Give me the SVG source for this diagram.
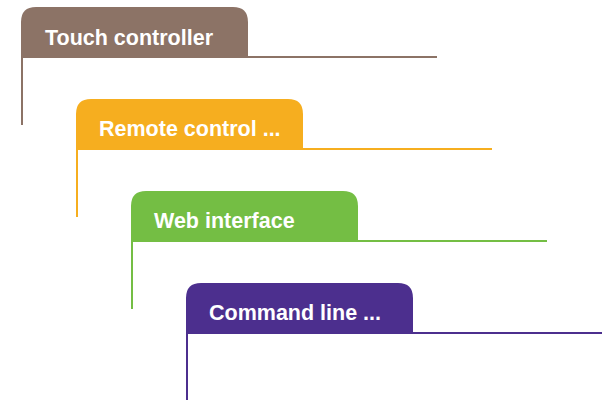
<svg xmlns="http://www.w3.org/2000/svg" width="606" height="400" viewBox="0 0 606 400">
<style>
.lbl{font-family:"Liberation Sans",Arial,sans-serif;font-weight:bold;font-size:21.5px;fill:#fff}
.ln{fill:none;stroke-width:2}
</style>
<rect width="606" height="400" fill="#fff"/>
<g id="touch">
<path d="M21,57 V22 Q21,7 36,7 H233 Q248,7 248,22 V57 Z" fill="#8c7366"/>
<path class="ln" stroke="#8c7366" d="M22,125 V57 H437"/>
<text class="lbl" x="45" y="45">Touch controller</text>
</g>
<g id="remote">
<path d="M76,149 V114 Q76,99 91,99 H288 Q303,99 303,114 V149 Z" fill="#f6ae1f"/>
<path class="ln" stroke="#f6ae1f" d="M77,217 V149 H492"/>
<text class="lbl" x="99" y="136">Remote control ...</text>
</g>
<g id="web">
<path d="M131,241 V206 Q131,191 146,191 H343 Q358,191 358,206 V241 Z" fill="#74be44"/>
<path class="ln" stroke="#74be44" d="M132,309 V241 H547"/>
<text class="lbl" x="154" y="228">Web interface</text>
</g>
<g id="cli">
<path d="M186,333 V298 Q186,283 201,283 H398 Q413,283 413,298 V333 Z" fill="#4c2f8e"/>
<path class="ln" stroke="#4c2f8e" d="M187,401 V333 H602"/>
<text class="lbl" x="209" y="320">Command line ...</text>
</g>
<g id="connectors"/>
</svg>
